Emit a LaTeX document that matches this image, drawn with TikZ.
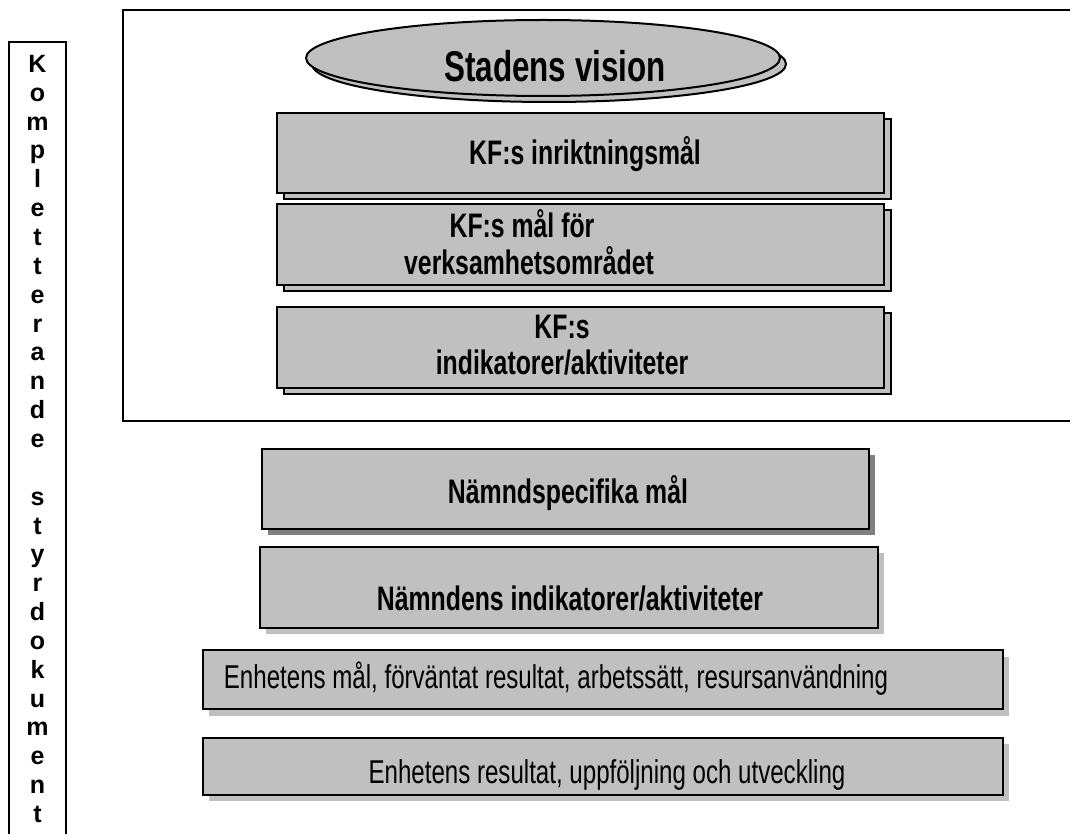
\documentclass[tikz,border=0pt]{standalone}
\usepackage{fontspec}
\setmainfont[FakeStretch=0.73]{Liberation Sans}
\newfontfamily\vertfont{Liberation Sans}
\usetikzlibrary{shapes.geometric}
\definecolor{boxgray}{HTML}{C0C0C0}
\definecolor{darkshade}{HTML}{808080}
\begin{document}
\begin{tikzpicture}[x=1pt,y=-1pt,
  box/.style={draw=black, line width=2pt, fill=boxgray, rectangle, inner sep=0pt},
  softshadow/.style={fill=boxgray, draw=none, rectangle, inner sep=0pt},
  darkshadow/.style={fill=darkshade, draw=none, rectangle, inner sep=0pt},
  oval/.style={draw=black, line width=2pt, fill=boxgray, ellipse, inner sep=0pt},
  boldlbl/.style={font=\fontsize{34}{36}\selectfont\bfseries, inner sep=0pt, anchor=base},
  reglbl/.style={font=\fontsize{33}{36}\selectfont, inner sep=0pt, anchor=base},
  frameline/.style={draw=black, line width=1.5pt}
]
\useasboundingbox (0,0) rectangle (1070,834);
\fill[white] (0,0) rectangle (1070,834);

% outer frame (open to the right)
\draw[frameline] (1075,10) -- (123,10) -- (123,421) -- (1075,421);

% left vertical box
\draw[frameline] (9,840) -- (9,42) -- (66,42) -- (66,840);
\node[font=\vertfont\fontsize{25}{28.85}\selectfont\bfseries, align=center, anchor=north, inner sep=0pt] (vtext) at (37.5,55)
 {K\\o\\m\\p\\l\\e\\t\\t\\e\\r\\a\\n\\d\\e\\[28.85pt]s\\t\\y\\r\\d\\o\\k\\u\\m\\e\\n\\t};

% vision ellipse
\node[oval, minimum width=474pt, minimum height=76pt] (visions) at (549,64) {};
\node[oval, minimum width=474pt, minimum height=76pt] (vision) at (543,58) {};
\node[font=\fontsize{43}{46}\selectfont\bfseries, inner sep=0pt, anchor=base] (visiontxt) at (555,82) {Stadens vision};

% KF boxes with stacked shadow
\node[box, minimum width=607pt, minimum height=80pt] (b1s) at (587,159) {};
\node[box, minimum width=607pt, minimum height=80pt] (b1) at (580.5,153) {};
\node[boldlbl] (t1) at (585,165) {KF:s inriktningsmål};

\node[box, minimum width=607pt, minimum height=81pt] (b2s) at (587,250.5) {};
\node[box, minimum width=607pt, minimum height=81pt] (b2) at (580.5,244.5) {};
\node[boldlbl] (t2a) at (522,238) {KF:s mål för};
\node[boldlbl] (t2b) at (529,274) {verksamhetsområdet};

\node[box, minimum width=607pt, minimum height=81pt] (b3s) at (587,353.5) {};
\node[box, minimum width=607pt, minimum height=81pt] (b3) at (580.5,347.5) {};
\node[boldlbl] (t3a) at (562,338) {KF:s};
\node[boldlbl] (t3b) at (562,374) {indikatorer/aktiviteter};

% Nämnd boxes
\node[darkshadow, minimum width=607pt, minimum height=80pt] (b4s) at (571.5,495) {};
\node[box, minimum width=607pt, minimum height=80pt] (b4) at (565.5,489) {};
\node[boldlbl] (t4) at (568,503) {Nämndspecifika mål};

\node[softshadow, minimum width=618pt, minimum height=81pt] (b5s) at (575,593.5) {};
\node[box, minimum width=618pt, minimum height=81pt] (b5) at (569,587.5) {};
\node[boldlbl] (t5) at (570,610) {Nämndens indikatorer/aktiviteter};

% Enhet boxes
\node[softshadow, minimum width=800pt, minimum height=59pt] (b6s) at (609,686) {};
\node[box, minimum width=800pt, minimum height=59pt] (b6) at (603,679.5) {};
\node[reglbl] (t6) at (556,688) {Enhetens mål, förväntat resultat, arbetssätt, resursanvändning};

\node[softshadow, minimum width=800pt, minimum height=57pt] (b7s) at (609,772.5) {};
\node[box, minimum width=800pt, minimum height=57pt] (b7) at (603,766.5) {};
\node[reglbl] (t7) at (607,783) {Enhetens resultat, uppföljning och utveckling};
\end{tikzpicture}
\end{document}
